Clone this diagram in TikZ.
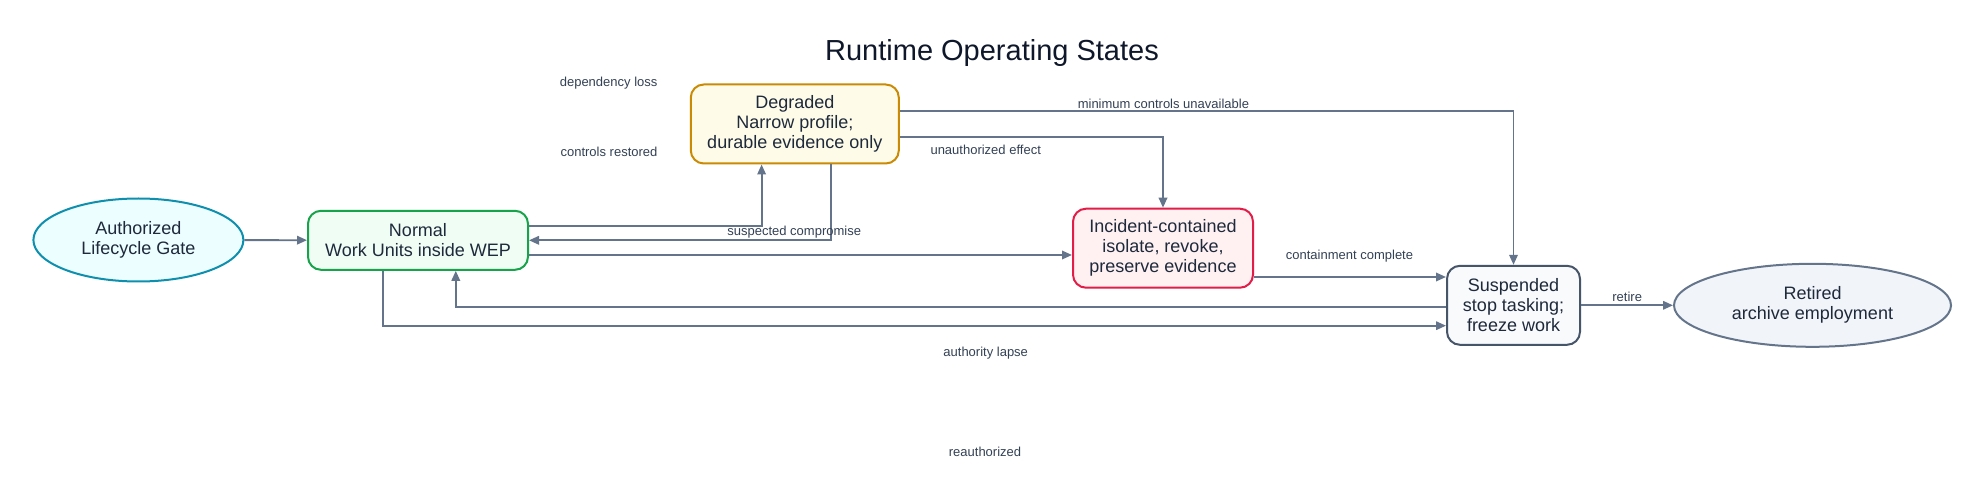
\documentclass[tikz,border=0pt]{standalone}
\usepackage{fontspec}
\setmainfont{Liberation Sans}
\usetikzlibrary{arrows.meta,shapes.geometric}
\definecolor{edgec}{HTML}{64748B}
\definecolor{labc}{HTML}{334155}
\definecolor{txtc}{HTML}{1E293B}
\definecolor{titc}{HTML}{0F172A}
\definecolor{authF}{HTML}{ECFEFF}\definecolor{authD}{HTML}{0E8FAE}
\definecolor{normF}{HTML}{F0FDF4}\definecolor{normD}{HTML}{16A34A}
\definecolor{degF}{HTML}{FEFCE8}\definecolor{degD}{HTML}{CA8A04}
\definecolor{incF}{HTML}{FFF1F2}\definecolor{incD}{HTML}{E11D48}
\definecolor{susF}{HTML}{F8FAFC}\definecolor{susD}{HTML}{475569}
\definecolor{retF}{HTML}{F1F5F9}\definecolor{retD}{HTML}{64748B}
\tikzset{
  statebox/.style={draw, line width=2pt, rounded corners=13pt, align=center, text=txtc,
    font=\fontsize{18}{20}\selectfont, inner sep=0pt},
  stateell/.style={draw, line width=2pt, ellipse, align=center, text=txtc,
    font=\fontsize{18}{20}\selectfont, inner sep=0pt},
  conn/.style={draw=edgec, line width=1.8pt, -{Triangle[length=10pt,width=8.5pt]}},
  elabel/.style={text=labc, font=\fontsize{13}{15}\selectfont, inner sep=0pt},
}
\begin{document}
\begin{tikzpicture}[x=1pt,y=-1pt]
\useasboundingbox[fill=white] (0,0) rectangle (1984,494);
\node[text=titc, font=\fontsize{29}{33}\selectfont] (title) at (992,53) {Runtime Operating States};

\node[stateell, fill=authF, draw=authD, minimum width=210pt, minimum height=83pt] (auth) at (138.4,240) {Authorized\\Lifecycle Gate};
\node[statebox, fill=normF, draw=normD, minimum width=220pt, minimum height=59pt] (norm) at (418,240.3) {Normal\\Work Units inside WEP};
\node[statebox, fill=degF, draw=degD, minimum width=208pt, minimum height=79pt] (deg) at (794.8,124) {Degraded\\Narrow profile;\\durable evidence only};
\node[statebox, fill=incF, draw=incD, minimum width=180pt, minimum height=79pt] (inc) at (1163,248.2) {Incident-contained\\isolate, revoke,\\preserve evidence};
\node[statebox, fill=susF, draw=susD, minimum width=133pt, minimum height=79pt] (sus) at (1513.5,305.3) {Suspended\\stop tasking;\\freeze work};
\node[stateell, fill=retF, draw=retD, minimum width=277pt, minimum height=83pt] (ret) at (1812.5,305.3) {Retired\\archive employment};

% edges
\draw[conn] (auth) -- (norm);
\draw[conn] ([yshift=14.6pt]norm.east) -| ([xshift=-33.2pt]deg.south);
\draw[conn] ([xshift=36pt]deg.south) |- (norm.east);
\draw[conn] ([yshift=-14.7pt]norm.east) -- ([yshift=-14.7pt]norm.east -| inc.west);
\draw[conn] ([yshift=13pt]deg.east) -| (sus.north);
\draw[conn] ([yshift=-13.3pt]deg.east) -| (inc.north);
\draw[conn] ([yshift=-28.8pt]inc.east) -- ([yshift=-28.8pt]inc.east -| sus.west);
\draw[conn] ([yshift=-1.4pt]sus.west) -| ([xshift=37.8pt]norm.south);
\draw[conn] ([xshift=-35.4pt]norm.south) |- ([yshift=-20.4pt]sus.west);
\draw[conn] (sus) -- (ret);

% labels
\node[elabel, anchor=east] (l1) at (657.6,82.7) {dependency loss};
\node[elabel, anchor=east] (l2) at (657.6,151.7) {controls restored};
\node[elabel] (l3) at (794.2,231.7) {suspected compromise};
\node[elabel] (l4) at (1163.4,103.7) {minimum controls unavailable};
\node[elabel] (l5) at (985.7,150.3) {unauthorized effect};
\node[elabel] (l6) at (1349.5,255.7) {containment complete};
\node[elabel] (l7) at (1627.2,297.3) {retire};
\node[elabel] (l8) at (985.7,353.3) {authority lapse};
\node[elabel] (l9) at (985,452) {reauthorized};
\end{tikzpicture}
\end{document}
